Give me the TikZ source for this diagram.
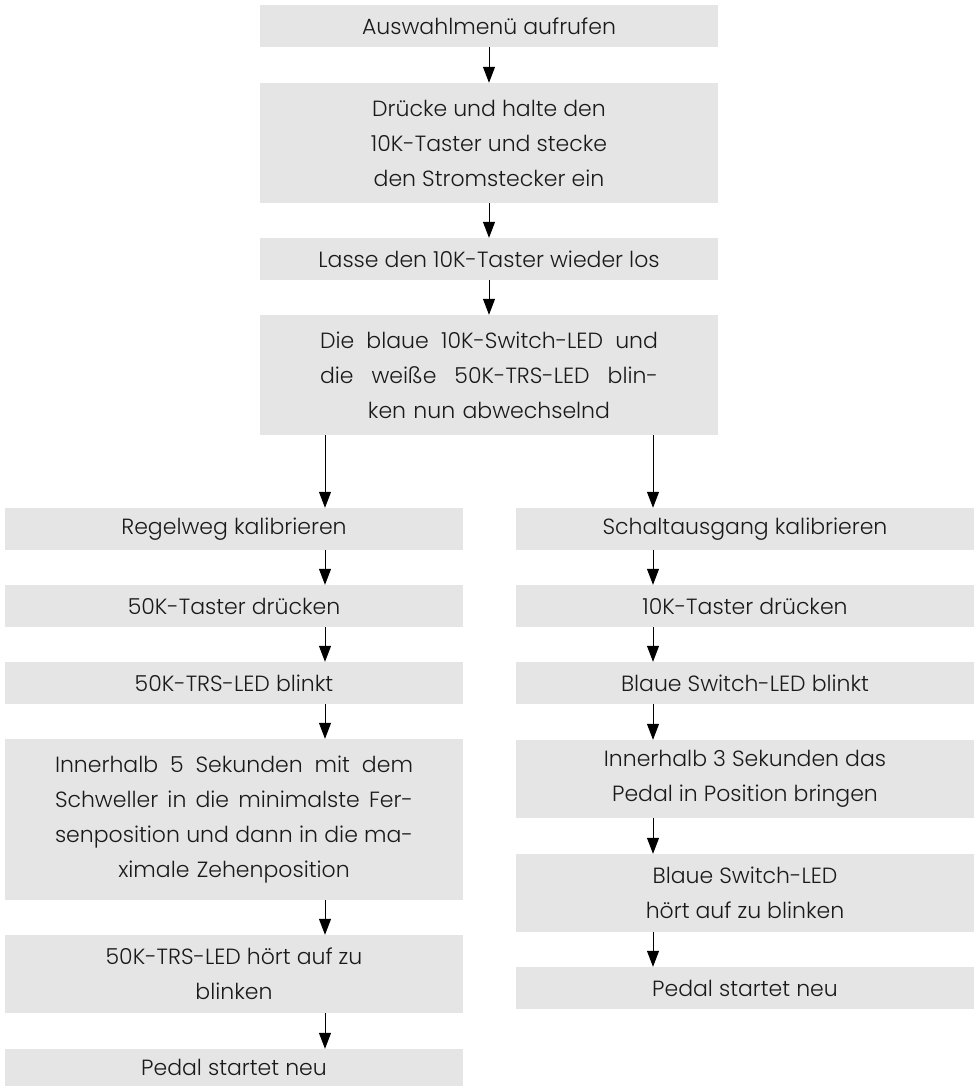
\documentclass[tikz,border=0pt]{standalone}
\usepackage{fontspec}
\IfFontExistsTF{Poppins Light}{\setmainfont{Poppins Light}}{\setmainfont{Poppins}}
\usetikzlibrary{arrows.meta,calc}
\definecolor{boxgray}{HTML}{E5E5E5}
\definecolor{txt}{HTML}{1A1A1A}
\newcommand{\jline}[2]{\makebox[#1][s]{\spaceskip=0.25em plus 1fil\relax #2}}
\begin{document}
\begin{tikzpicture}[x=1pt,y=-1pt,
  font=\fontsize{22}{35}\selectfont,
  stepbox/.style={fill=boxgray, inner sep=0pt, text=txt, align=center, minimum width=458pt},
  arr/.style={-{Triangle[length=16pt,width=12pt]}, line width=1pt, draw=black}]
\useasboundingbox (0,0) rectangle (979,1086);
% top column
\node[stepbox, minimum height=42pt] (t1) at (489,26) {Auswahlmenü aufrufen};
\node[stepbox, minimum height=120pt] (t2) at (489,143) {Drücke und halte den\\10K-Taster und stecke\\den Stromstecker ein};
\node[stepbox, minimum height=42pt] (t3) at (489,259) {Lasse den 10K-Taster wieder los};
\node[stepbox, minimum height=120pt, text width=338pt] (t4) at (489,375) {\jline{338pt}{Die blaue 10K-Switch-LED und}\\\jline{338pt}{die weiße 50K-TRS-LED blin-}\\ken nun abwechselnd};
% left column
\node[stepbox, minimum height=42pt] (l1) at (234,529) {Regelweg kalibrieren};
\node[stepbox, minimum height=42pt] (l2) at (234,606) {50K-Taster drücken};
\node[stepbox, minimum height=42pt] (l3) at (234,683) {50K-TRS-LED blinkt};
\node[stepbox, minimum height=161pt, text width=358pt] (l4) at (234,819.5) {\jline{358pt}{Innerhalb 5 Sekunden mit dem}\\\jline{358pt}{Schweller in die minimalste Fer-}\\\jline{358pt}{senposition und dann in die ma-}\\ximale Zehenposition};
\node[stepbox, minimum height=78pt] (l5) at (234,974) {50K-TRS-LED hört auf zu\\blinken};
\node[stepbox, minimum height=37pt] (l6) at (234,1067.5) {Pedal startet neu};
% right column
\node[stepbox, minimum height=42pt] (r1) at (745,529) {Schaltausgang kalibrieren};
\node[stepbox, minimum height=42pt] (r2) at (745,606) {10K-Taster drücken};
\node[stepbox, minimum height=42pt] (r3) at (745,683) {Blaue Switch-LED blinkt};
\node[stepbox, minimum height=78pt] (r4) at (745,779) {Innerhalb 3 Sekunden das\\Pedal in Position bringen};
\node[stepbox, minimum height=78pt] (r5) at (745,893) {Blaue Switch-LED\\hört auf zu blinken};
\node[stepbox, minimum height=42pt] (r6) at (745,988) {Pedal startet neu};
% arrow columns
\coordinate (cl) at (325,0);
\coordinate (cr) at (653,0);
% arrows
\draw[arr] (t1) -- (t2);
\draw[arr] (t2) -- (t3);
\draw[arr] (t3) -- (t4);
\draw[arr] (t4.south -| cl) -- (l1.north -| cl);
\draw[arr] (t4.south -| cr) -- (r1.north -| cr);
\draw[arr] (l1.south -| cl) -- (l2.north -| cl);
\draw[arr] (l2.south -| cl) -- (l3.north -| cl);
\draw[arr] (l3.south -| cl) -- (l4.north -| cl);
\draw[arr] (l4.south -| cl) -- (l5.north -| cl);
\draw[arr] (l5.south -| cl) -- (l6.north -| cl);
\draw[arr] (r1.south -| cr) -- (r2.north -| cr);
\draw[arr] (r2.south -| cr) -- (r3.north -| cr);
\draw[arr] (r3.south -| cr) -- (r4.north -| cr);
\draw[arr] (r4.south -| cr) -- (r5.north -| cr);
\draw[arr] (r5.south -| cr) -- (r6.north -| cr);
\end{tikzpicture}
\end{document}
